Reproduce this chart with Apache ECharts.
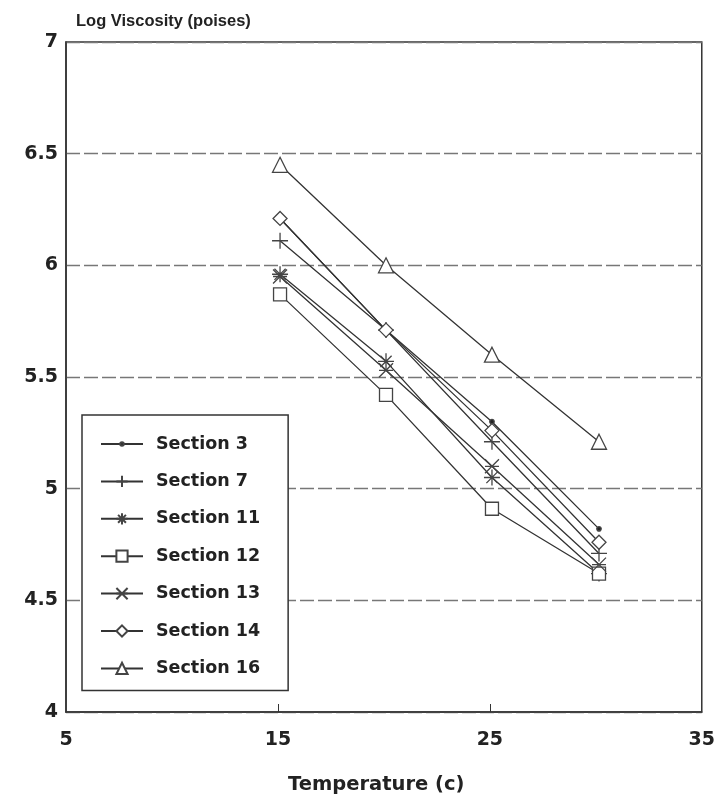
<!DOCTYPE html>
<html><head><meta charset="utf-8">
<script src="https://cdn.jsdelivr.net/npm/echarts@6/dist/echarts.min.js"></script>
<style>html,body{margin:0;padding:0;background:#fff}#c{width:718px;height:799px}</style>
</head><body><div id="c"></div>
<script>
const temps = [15.1, 20.1, 25.1, 30.15];
const section3  = [6.21, 5.71, 5.30, 4.82];
const section7  = [6.11, 5.71, 5.21, 4.71];
const section11 = [5.96, 5.57, 5.05, 4.62];
const section12 = [5.87, 5.42, 4.91, 4.62];
const section13 = [5.95, 5.53, 5.10, 4.66];
const section14 = [6.21, 5.71, 5.26, 4.76];
const section16 = [6.45, 6.00, 5.60, 5.21];
const xLabels = [5, 15, 25, 35];
const xTicks = [15, 25];
const yTitle = 'Log Viscosity (poises)';
const xTitle = 'Temperature (c)';

const FONT = 'DejaVu Sans';
const DOT = 'path://M0,0M10,10M5,3.4A1.6,1.6,0,1,1,5,6.6A1.6,1.6,0,1,1,5,3.4Z';
const defs = [
  ['Section 3', section3, DOT, 14, true],
  ['Section 7', section7, 'path://M5,0L5,10M0,5L10,5', 16, false],
  ['Section 11', section11, 'path://M5,0L5,10M0,5L10,5M1.5,1.5L8.5,8.5M8.5,1.5L1.5,8.5', 16, false],
  ['Section 12', section12, 'rect', 13, false],
  ['Section 13', section13, 'path://M0,0L10,10M10,0L0,10M0,5L10,5', 14, false],
  ['Section 14', section14, 'diamond', 14, false],
  ['Section 16', section16, 'triangle', 15, false]
];
const series = defs.map(([name, vals, sym, size, filled]) => ({
  name, type: 'line', symbol: sym, symbolSize: size,
  data: temps.map((t, i) => [t, vals[i]]),
  lineStyle: {color: '#333', width: 1.3},
  itemStyle: {color: filled ? '#222' : '#fff', borderColor: '#444', borderWidth: 1.3},
  emphasis: {disabled: true},
  z: 3
}));

const chart = echarts.init(document.getElementById('c'), null, {renderer: 'canvas'});
chart.setOption({
  animation: false,
  backgroundColor: '#fff',
  grid: {left: 66, right: 16, top: 42, bottom: 87, show: true, borderColor: '#333', borderWidth: 1.5, backgroundColor: 'transparent'},
  title: [
    {text: yTitle, left: 71, top: 8, textStyle: {fontFamily: 'Liberation Sans', fontWeight: 'bold', fontSize: 16.5, color: '#222'}},
    {text: xTitle, left: 283, top: 770, textStyle: {fontFamily: FONT, fontWeight: 'bold', fontSize: 19.5, color: '#222'}}
  ],
  xAxis: {
    type: 'value', min: 5, max: 35,
    axisLine: {show: true, lineStyle: {color: '#333', width: 1.5}},
    axisTick: {show: true, inside: true, length: 8, customValues: xTicks, lineStyle: {color: '#333'}},
    axisLabel: {customValues: xLabels, margin: 19, fontFamily: FONT, fontWeight: 'bold', fontSize: 19, color: '#222'},
    splitLine: {show: false}
  },
  yAxis: {
    type: 'value', min: 4, max: 7, interval: 0.5,
    axisLine: {show: true, lineStyle: {color: '#333', width: 1.5}},
    axisTick: {show: false},
    axisLabel: {margin: 8, fontFamily: FONT, fontWeight: 'bold', fontSize: 19, color: '#222',
      formatter: v => String(v)},
    splitLine: {show: true, lineStyle: {color: '#777', width: 1.3, type: [14, 4]}}
  },
  legend: {
    orient: 'vertical', left: 82, top: 415,
    padding: [20, 28, 13, 18],
    itemWidth: 42, itemHeight: 14, itemGap: 19.4,
    backgroundColor: '#fff', borderColor: '#333', borderWidth: 1.5,
    textStyle: {fontFamily: FONT, fontWeight: 'bold', fontSize: 17.5, color: '#222', padding: [0, 0, 0, 8]},
    data: defs.map(d => d[0])
  },
  series
});
</script></body></html>
